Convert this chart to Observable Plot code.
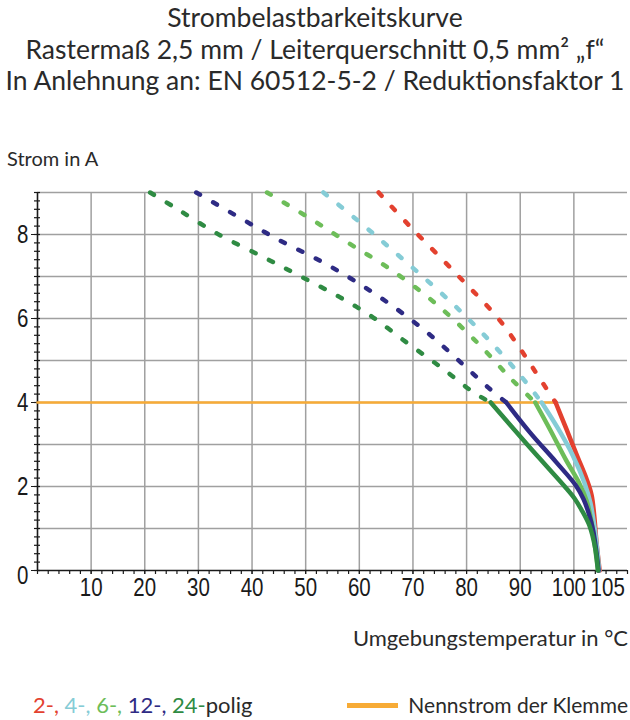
<!DOCTYPE html>
<html>
<head>
<meta charset="utf-8">
<script src="https://cdn.jsdelivr.net/npm/d3@7"></script>
<script src="https://cdn.jsdelivr.net/npm/@observablehq/plot@0.6"></script>
<style>
  body { margin: 0; background: #fff; }
  #page { position: relative; width: 630px; height: 720px; overflow: hidden;
          font-family: Lato, "Open Sans", sans-serif; color: #2a2a2a; }
  #title { position: absolute; left: 0; top: 2px; width: 630px; text-align: center;
           font-size: 26.5px; line-height: 31.5px; white-space: nowrap; }
  #ylabel { position: absolute; left: 7px; top: 146px; font-size: 20px; }
  #xlabel { position: absolute; right: 2px; top: 624px; font-size: 22px; }
  #chart { position: absolute; left: 0; top: 160px; }
  #legend { position: absolute; left: 33px; top: 691px; font-size: 22px; white-space: nowrap; }
  #rated { position: absolute; right: 2px; top: 692px; font-size: 21px; white-space: nowrap; }
  #ratedSwatch { position: absolute; left: 347px; top: 703px; width: 51px; height: 5px; }
</style>
</head>
<body>
<div id="page">
  <div id="title">
    Strombelastbarkeitskurve<br>
    Rastermaß 2,5 mm / Leiterquerschnitt 0,5 mm² „f“<br>
    In Anlehnung an: EN 60512-5-2 / Reduktionsfaktor 1
  </div>
  <div id="ylabel">Strom in A</div>
  <div id="chart"></div>
  <div id="xlabel">Umgebungstemperatur in °C</div>
  <div id="legend"></div>
  <div id="ratedSwatch"></div>
  <div id="rated">Nennstrom der Klemme</div>
</div>
<script>
// Pole counts and their colours
const poles = ["2", "4", "6", "12", "24"];
const poleColors = ["#e3412f", "#85ccd6", "#6dbd59", "#2e2b84", "#2f8b43"];
const ratedColor = "#f7ab36";

// Rated current of the terminal block (A)
const ratedCurrent = 4;

// Derating curves: [ambient temperature °C, current A]
// dashed part = above rated current, solid part = up to rated current
const pole2Dashed  = [[63.6, 9.0], [69.4, 8.2], [77.8, 7.1], [85.9, 6.0], [90.2, 5.24], [93.5, 4.6], [96.6, 4.0]];
const pole2Solid   = [[96.6, 4.0], [98.6, 3.37], [100.7, 2.7], [102.3, 2.2], [103.3, 1.8], [103.8, 1.3], [104.2, 0.7], [104.8, 0.0]];

const pole4Dashed  = [[53.3, 9.0], [60.2, 8.28], [66.6, 7.58], [73.4, 6.82], [79.3, 6.12], [84.5, 5.44], [89.8, 4.68], [94.0, 4.0]];
const pole4Solid   = [[94.0, 4.0], [97.1, 3.37], [99.8, 2.74], [102.0, 2.08], [103.1, 1.6], [103.8, 1.07], [104.4, 0.44], [104.7, 0.0]];

const pole6Dashed  = [[42.8, 9.0], [51.1, 8.36], [58.2, 7.78], [65.0, 7.24], [71.9, 6.6], [77.2, 6.02], [82.8, 5.32], [88.4, 4.55], [92.8, 4.0]];
const pole6Solid   = [[92.8, 4.0], [95.5, 3.37], [98.5, 2.64], [101.0, 2.08], [102.4, 1.65], [103.3, 1.15], [103.9, 0.6], [104.5, 0.0]];

const pole12Dashed = [[29.6, 9.0], [37.7, 8.4], [45.0, 7.87], [52.6, 7.38], [59.6, 6.86], [66.6, 6.26], [73.1, 5.62], [79.2, 4.92], [84.0, 4.36], [87.4, 4.0]];
const pole12Solid  = [[87.4, 4.0], [91.8, 3.29], [96.7, 2.58], [100.4, 2.02], [101.8, 1.7], [102.8, 1.35], [103.6, 0.95], [104.2, 0.44], [104.6, 0.0]];

const pole24Dashed = [[21.0, 9.0], [25.9, 8.62], [33.5, 8.02], [42.3, 7.45], [49.1, 7.0], [56.2, 6.52], [62.4, 6.04], [68.8, 5.43], [75.2, 4.84], [81.3, 4.24], [84.5, 4.0]];
const pole24Solid  = [[84.5, 4.0], [91.3, 3.0], [94.8, 2.5], [98.3, 2.0], [100.1, 1.72], [101.4, 1.45], [102.9, 1.07], [104.0, 0.52], [104.5, 0.0]];

// Axis ticks
const xTickLabels = [10, 20, 30, 40, 50, 60, 70, 80, 90];
const xTickLabelsEnd = [100, 105];
const yTickLabels = [2, 4, 6, 8];
const yTickLabelZero = [0];
const xGridLines = d3.range(10, 101, 10);
const yGridLines = d3.range(1, 10, 1);
const xMinorTicks = d3.range(0, 111, 2);
const yMinorTicks = d3.range(0, 9.001, 0.2);

const dashedSets = [pole2Dashed, pole4Dashed, pole6Dashed, pole12Dashed, pole24Dashed];
const solidSets = [pole2Solid, pole4Solid, pole6Solid, pole12Solid, pole24Solid];

const toRows = (sets) => sets.flatMap((pts, k) => pts.map(([t, a]) => ({pole: poles[k], t, a})));
const dashedRows = toRows(dashedSets);
const solidRows = toRows(solidSets);

// Rated-current line runs from 0 °C to the start of the 2-pole solid curve
const ratedRows = [{t: 0, a: ratedCurrent}, {t: pole2Solid[0][0], a: ratedCurrent}];

const tickFont = "'Liberation Sans', Arial, sans-serif";
const gridStyle = {stroke: "#a0a0a0", strokeOpacity: 1, strokeWidth: 1.5};
const labelStyle = {label: null, fontSize: 25};

const chart = Plot.plot({
  width: 630,
  height: 450,
  marginLeft: 37,
  marginRight: 3,
  marginTop: 32,
  marginBottom: 40,
  x: {domain: [0, 110]},
  y: {domain: [0, 9]},
  color: {domain: poles, range: poleColors},
  style: {fontFamily: tickFont, fontSize: "25px", color: "#1a1a1a", background: "transparent"},
  marks: [
    Plot.gridX({ticks: xGridLines, ...gridStyle}),
    Plot.gridY({ticks: yGridLines, ...gridStyle}),
    // minor ticks
    Plot.axisX({ticks: xMinorTicks, tickSize: 4, text: null, label: null, strokeWidth: 1.2}),
    Plot.axisY({ticks: yMinorTicks, tickSize: 6, dx: 3, text: null, label: null, strokeWidth: 1.2}),
    // major ticks
    Plot.axisX({ticks: xGridLines, tickSize: 4, text: null, label: null}),
    Plot.axisY({ticks: [...yTickLabelZero, ...yTickLabels], tickSize: 6, text: null, label: null}),
    // tick labels
    Plot.axisX({ticks: xTickLabels, tickSize: 0, tickPadding: 8, ...labelStyle}),
    Plot.axisX({ticks: [xTickLabelsEnd[0]], tickSize: 0, tickPadding: 8, dx: -5, ...labelStyle}),
    Plot.axisX({ticks: [xTickLabelsEnd[1]], tickSize: 0, tickPadding: 8, dx: 7, ...labelStyle}),
    Plot.axisY({ticks: yTickLabels, tickSize: 0, tickPadding: 9, ...labelStyle}),
    Plot.axisY({ticks: yTickLabelZero, tickSize: 0, tickPadding: 9, dy: 5, ...labelStyle}),
    // axis lines
    Plot.ruleX([0], {stroke: "#1a1a1a", strokeWidth: 1.6}),
    Plot.ruleY([0], {stroke: "#1a1a1a", strokeWidth: 1.6}),
    // rated current
    Plot.line(ratedRows, {x: "t", y: "a", stroke: ratedColor, strokeWidth: 2.5}),
    // derating curves
    Plot.line(dashedRows, {x: "t", y: "a", z: "pole", stroke: "pole", strokeWidth: 4.5,
      strokeDasharray: "4.5,15", curve: "catmull-rom"}),
    Plot.line(solidRows, {x: "t", y: "a", z: "pole", stroke: "pole", strokeWidth: 4.5,
      curve: "catmull-rom"})
  ]
});
document.getElementById("chart").append(chart);

// Narrow the tick-label digits (condensed Arial look): squeeze each label
// horizontally about its own anchor point
d3.select(chart).selectAll("text").each(function () {
  if (!this.textContent.trim()) return;
  const t = this.getAttribute("transform");
  if (t) {
    this.setAttribute("transform", `${t} scale(0.82,1)`);
  } else {
    this.setAttribute("textLength", (this.textContent.trim().length * 10.9).toFixed(1));
    this.setAttribute("lengthAdjust", "spacingAndGlyphs");
  }
});

// Legend: pole counts in their line colours
const legend = document.getElementById("legend");
poles.forEach((p, k) => {
  const s = document.createElement("span");
  s.style.color = poleColors[k];
  s.textContent = k < poles.length - 1 ? `${p}-, ` : `${p}-`;
  legend.append(s);
});
legend.append("polig");
document.getElementById("ratedSwatch").style.background = ratedColor;
</script>
</body>
</html>
